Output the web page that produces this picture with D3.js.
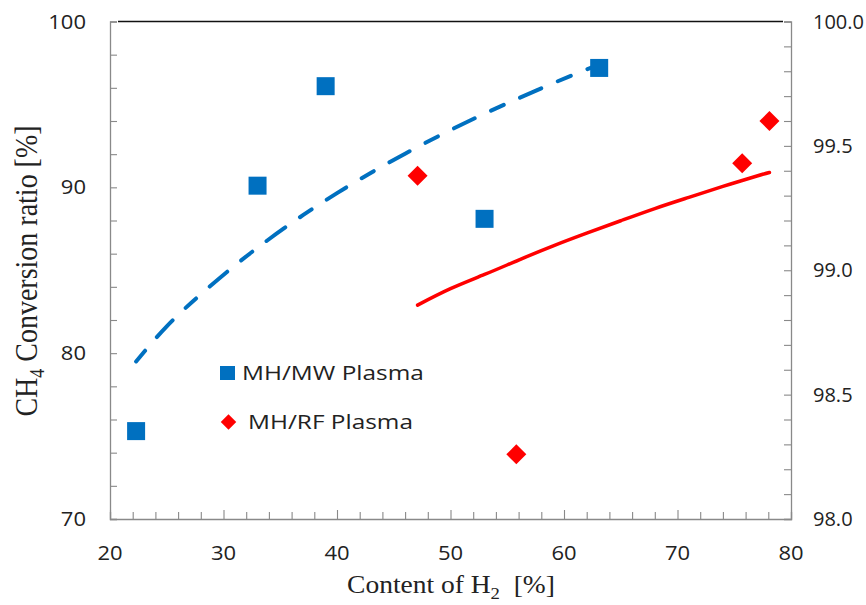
<!DOCTYPE html>
<html><head><meta charset="utf-8">
<script src="https://cdn.jsdelivr.net/npm/d3@7"></script>
<style>body{margin:0;background:#fff}svg{display:block}</style>
</head><body>
<svg id="c" width="866" height="605"></svg>
<script>
// Data
const mwX = [22.3, 33.0, 39.0, 53.0, 63.1];
const mwY = [75.3, 90.1, 96.1, 88.1, 97.2];
const rfX = [47.1, 55.8, 75.7, 78.1];
const rfY = [99.38, 98.26, 99.43, 99.60];
const mwTrendX = [22.3, 25, 28, 31, 34, 37, 40, 43, 46, 49, 52, 55, 58, 61, 63.1];
const mwTrendY = [79.5, 81.62, 83.55, 85.29, 86.87, 88.32, 89.65, 90.88, 92.03, 93.11, 94.12, 95.07, 95.97, 96.84, 97.4];
const rfTrendX = [47.1, 50, 53, 56, 59, 62, 65, 68, 71, 74, 77, 78.1];
const rfTrendY = [98.860, 98.926, 98.983, 99.041, 99.097, 99.149, 99.199, 99.248, 99.293, 99.337, 99.379, 99.393];
const xTicks = [20, 30, 40, 50, 60, 70, 80];
const yLeftTicks = [70, 80, 90, 100];
const yRightTicks = [98.0, 98.5, 99.0, 99.5, 100.0];
const legendLabels = ["MH/MW Plasma", "MH/RF Plasma"];

const svg = d3.select("#c");
const L = 110, R = 791, T = 21.5, B = 519;
const x = d3.scaleLinear().domain([20, 80]).range([L, R]);
const yL = d3.scaleLinear().domain([70, 100]).range([B, T]);
const yR = d3.scaleLinear().domain([98, 100]).range([B, T]);
const axisCol = "#898989";
const sans = "'Open Sans', 'Noto Sans', sans-serif";
const serif = "'Liberation Serif', 'DejaVu Serif', serif";
const TS = 1.1;  // horizontal stretch of left/bottom tick labels
const LS = 1.22; // horizontal stretch of legend text

// top border line
svg.append("line").attr("x1", L + 8).attr("x2", R - 8).attr("y1", T).attr("y2", T)
  .attr("stroke", "#111").attr("stroke-width", 1.6);

// axes
const gx = svg.append("g").attr("transform", `translate(0,${B})`)
  .call(d3.axisBottom(x).tickValues(d3.range(20, 81, 2)).tickSize(-7).tickFormat(""));
const gyl = svg.append("g").attr("transform", `translate(${L},0)`)
  .call(d3.axisLeft(yL).tickValues(d3.range(70, 101, 2)).tickSize(-7).tickFormat(""));
const gyr = svg.append("g").attr("transform", `translate(${R},0)`)
  .call(d3.axisRight(yR).tickValues(d3.range(0, 21).map(i => 98 + i * 0.1)).tickSize(-7).tickFormat(""));
[gx, gyl, gyr].forEach(g => {
  g.selectAll("path").attr("stroke", axisCol).attr("stroke-width", 1.3);
  g.selectAll("line").attr("stroke", axisCol).attr("stroke-width", 1.1);
});
gx.selectAll(".tick line").filter(d => d % 10 === 0).attr("y2", -9);

// tick labels
svg.append("g").selectAll("text").data(xTicks).join("text")
  .attr("transform", d => `translate(${x(d)},560) scale(${TS},1)`).attr("text-anchor", "middle")
  .attr("font-family", sans).attr("font-size", 20).attr("fill", "#222").text(d => d);
svg.append("g").selectAll("text").data(yLeftTicks).join("text")
  .attr("transform", d => `translate(86,${yL(d) + 7}) scale(${TS},1)`).attr("text-anchor", "end")
  .attr("font-family", sans).attr("font-size", 20).attr("fill", "#222").text(d => d);
svg.append("g").selectAll("text").data(yRightTicks).join("text")
  .attr("x", 813).attr("y", d => yR(d) + 7).attr("text-anchor", "start")
  .attr("font-family", sans).attr("font-size", 20).attr("fill", "#222").text(d => d.toFixed(1));

// axis titles
const xt = svg.append("text").attr("transform", "translate(451,593) scale(1.1,1)").attr("text-anchor", "middle")
  .attr("font-family", serif).attr("font-size", 25).attr("fill", "#222");
xt.append("tspan").text("Content of H");
xt.append("tspan").attr("font-size", 17).attr("dy", 6).text("2");
xt.append("tspan").attr("dy", -6).text("\u00a0 [%]");

const yt = svg.append("text").attr("transform", `translate(37,271) scale(1.15,1) rotate(-90)`)
  .attr("text-anchor", "middle").attr("font-family", serif).attr("font-size", 28).attr("fill", "#222");
yt.append("tspan").text("CH");
yt.append("tspan").attr("font-size", 18).attr("dy", 6).text("4");
yt.append("tspan").attr("dy", -6).text(" Conversion ratio [%]");

// trend lines
const lineMW = d3.line().x(d => x(d[0])).y(d => yL(d[1])).curve(d3.curveNatural);
svg.append("path").datum(d3.zip(mwTrendX, mwTrendY)).attr("d", lineMW)
  .attr("fill", "none").attr("stroke", "#0070C0").attr("stroke-width", 4)
  .attr("stroke-dasharray", "14,18,23,18").attr("stroke-linecap", "round");
const lineRF = d3.line().x(d => x(d[0])).y(d => yR(d[1])).curve(d3.curveNatural);
svg.append("path").datum(d3.zip(rfTrendX, rfTrendY)).attr("d", lineRF)
  .attr("fill", "none").attr("stroke", "#FF0000").attr("stroke-width", 3.5)
  .attr("stroke-linecap", "round");

// markers
const sq = 18;
svg.append("g").selectAll("rect").data(d3.zip(mwX, mwY)).join("rect")
  .attr("x", d => x(d[0]) - sq / 2).attr("y", d => yL(d[1]) - sq / 2)
  .attr("width", sq).attr("height", sq).attr("fill", "#0070C0");
const diamond = d3.symbol().type(d3.symbolSquare).size(200);
svg.append("g").selectAll("path").data(d3.zip(rfX, rfY)).join("path")
  .attr("d", diamond)
  .attr("transform", d => `translate(${x(d[0])},${yR(d[1])}) rotate(45)`)
  .attr("fill", "#FF0000");

// legend
svg.append("rect").attr("x", 220).attr("y", 366).attr("width", 15).attr("height", 14).attr("fill", "#0070C0");
svg.append("path").attr("d", d3.symbol().type(d3.symbolSquare).size(120))
  .attr("transform", "translate(228.5,422) rotate(45)").attr("fill", "#FF0000");
svg.append("text").attr("transform", `translate(242,380) scale(${LS},1)`).attr("font-family", sans).attr("font-size", 20)
  .attr("fill", "#222").text(legendLabels[0]);
svg.append("text").attr("transform", `translate(248,429) scale(${LS},1)`).attr("font-family", sans).attr("font-size", 20)
  .attr("fill", "#222").text(legendLabels[1]);
</script>
</body></html>
